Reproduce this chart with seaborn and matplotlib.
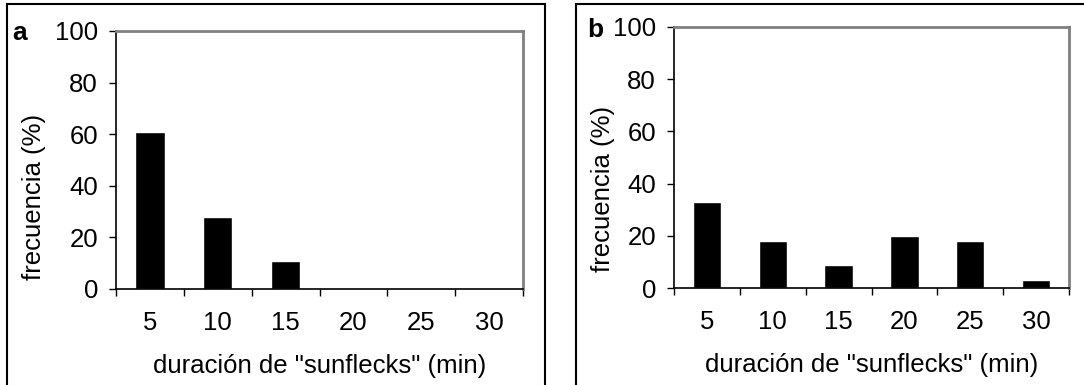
import numpy as np
import matplotlib
matplotlib.use("Agg")
import matplotlib.pyplot as plt
from matplotlib.patches import Rectangle
import seaborn as sns

sns.set_theme(style="white")
plt.rcParams['font.family'] = ['Liberation Sans', 'DejaVu Sans']
plt.rcParams['text.color'] = 'black'
plt.rcParams['axes.labelcolor'] = 'black'
plt.rcParams['xtick.color'] = 'black'
plt.rcParams['ytick.color'] = 'black'

# datos
duracion = ["5", "10", "15", "20", "25", "30"]
frecuencia_a = [61, 28, 11, 0, 0, 0]
frecuencia_b = [33, 18, 9, 20, 18, 3]
yticks = [0, 20, 40, 60, 80, 100]

W, H = 1084, 385
FS = 18.5
fig = plt.figure(figsize=(W / 100, H / 100), dpi=100)


def px_axes(left, top, right, bottom):
    return [left / W, (H - bottom) / H, (right - left) / W, (bottom - top) / H]


def panel(rect, valores, letra, letra_xy, ylab_x, ylab_y):
    ax = fig.add_axes(rect)
    sns.barplot(x=duracion, y=valores, color="black", width=0.43,
                saturation=1, ax=ax)
    ax.set_xlim(-0.5, len(duracion) - 0.5)
    ax.set_ylim(0, 100)

    # ticks en los limites de cada clase, etiquetas en el centro
    ax.set_xticks(np.arange(-0.5, len(duracion), 1))
    ax.set_xticklabels([])
    ax.set_xticks(np.arange(len(duracion)), minor=True)
    ax.set_xticklabels(duracion, minor=True, fontsize=FS)
    ax.tick_params(axis="x", which="major", direction="out", length=5,
                   width=1, color="black", bottom=True)
    ax.tick_params(axis="x", which="minor", length=0, pad=16)

    ax.set_yticks(yticks)
    ax.set_yticklabels([str(v) for v in yticks], fontsize=FS)
    ax.tick_params(axis="y", direction="out", length=5, width=1,
                   color="black", left=True, pad=8)

    for s in ["left", "bottom"]:
        ax.spines[s].set_color("black")
        ax.spines[s].set_linewidth(1.2)
    for s in ["top", "right"]:
        ax.spines[s].set_color("#808080")
        ax.spines[s].set_linewidth(2)

    ax.set_xlabel('duración de "sunflecks" (min)', fontsize=FS)
    ax.xaxis.set_label_coords(0.5, -0.25)
    ax.set_ylabel("frecuencia (%)", fontsize=FS)
    ax.yaxis.set_label_coords(ylab_x, ylab_y)

    fig.text(letra_xy[0] / W, 1 - letra_xy[1] / H, letra, fontsize=19,
             fontweight="bold", ha="center", va="center")
    return ax


panel(px_axes(116, 31, 523, 289), frecuencia_a, "a", (20, 33), -0.172, 0.357)
panel(px_axes(674, 27, 1069, 288), frecuencia_b, "b", (595, 30), -0.150, 0.379)

# marcos de cada panel
fig.add_artist(Rectangle((7 / W, -0.1), (545 - 7) / W, 1.1 - 4 / H,
                         transform=fig.transFigure, fill=False,
                         edgecolor="black", linewidth=1.5))
fig.add_artist(Rectangle((576 / W, -0.1), 0.6, 1.1 - 4 / H,
                         transform=fig.transFigure, fill=False,
                         edgecolor="black", linewidth=1.5))

fig.savefig("out.png", dpi=100, facecolor="white")
